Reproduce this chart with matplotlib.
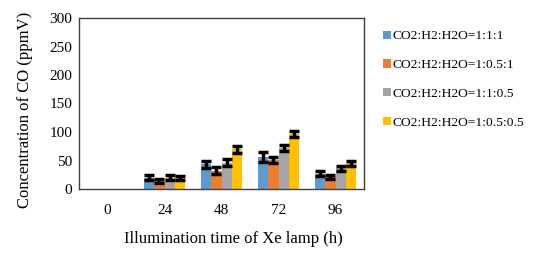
import matplotlib
matplotlib.use("Agg")
import matplotlib.pyplot as plt
import numpy as np

hours = ["0", "24", "48", "72", "96"]
series_names = [
    "CO2:H2:H2O=1:1:1",
    "CO2:H2:H2O=1:0.5:1",
    "CO2:H2:H2O=1:1:0.5",
    "CO2:H2:H2O=1:0.5:0.5",
]
ratio_111 = [0, 20, 43, 56, 27]
ratio_1051 = [0, 14, 32, 51, 21]
ratio_1105 = [0, 20, 46, 72, 36]
ratio_10505 = [0, 19, 70, 97, 45]
err_111 = [0, 5, 7, 9, 4]
err_1051 = [0, 4, 6, 6, 4]
err_1105 = [0, 4, 6, 6, 4]
err_10505 = [0, 4, 6, 5, 4]

colors = ["#5B9BD5", "#ED7D31", "#A5A5A5", "#FFC000"]

plt.rcParams["font.family"] = ["Liberation Serif", "DejaVu Serif"]

fig = plt.figure(figsize=(5.39, 2.57), dpi=100)
ax = fig.add_axes([79 / 539, 1 - 189 / 257, (364 - 79) / 539, (189 - 18) / 257])

x = np.arange(len(hours))
width = 0.18
values = [ratio_111, ratio_1051, ratio_1105, ratio_10505]
errors = [err_111, err_1051, err_1105, err_10505]
for i, (vals, errs) in enumerate(zip(values, errors)):
    offset = (i - 1.5) * width
    ax.bar(x + offset, vals, width, color=colors[i], label=series_names[i])
    e = np.array(errs, dtype=float)
    mask = np.array(vals) > 0
    ax.errorbar((x + offset)[mask], np.array(vals)[mask], yerr=e[mask],
                fmt="none", ecolor="black", elinewidth=2.5, capsize=3.5, capthick=2.5)

ax.set_xlim(-0.5, len(hours) - 0.5)
ax.set_ylim(0, 300)
ax.set_yticks(range(0, 301, 50))
ax.set_xticks(x)
ax.set_xticklabels(hours)
ax.tick_params(length=0, labelsize=11, pad=11)
ax.tick_params(axis="y", pad=5)
for spine in ax.spines.values():
    spine.set_color("#404040")
    spine.set_linewidth(1)

ax.set_xlabel("Illumination time of Xe lamp (h)", fontsize=12)
ax.set_ylabel("Concentration of CO (ppmV)", fontsize=12)
ax.xaxis.set_label_coords(0.54, -0.245)
ax.yaxis.set_label_coords(-0.16, 0.46)

fig.legend(loc="upper left", bbox_to_anchor=(378 / 539, 1 - 25 / 257),
           frameon=False, fontsize=9.7, handlelength=0.55, handleheight=0.55,
           handletextpad=0.15, labelspacing=1.25, borderaxespad=0)

fig.savefig("out.png", dpi=100)
